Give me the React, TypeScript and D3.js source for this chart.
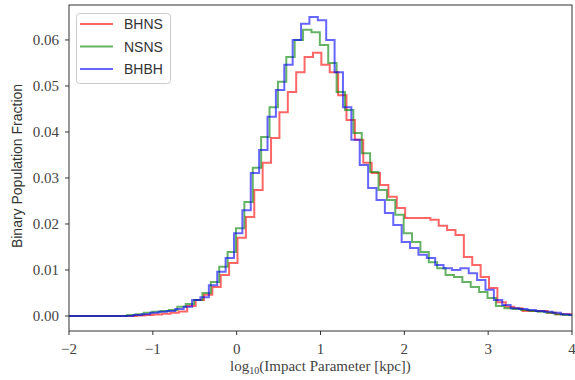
import React from 'react';
import * as d3 from 'd3';

// ---- data ----
const binWidth = 0.1;
const bhnsStart = -1.99;
const nsnsStart = -2.008;
const bhbhStart = -2.032;

const bhns = [
  0, 0, 0, 0, 0, 0, 0, 0,
  0.0001, 0.0002, 0.0003, 0.0005, 0.0007, 0.0010, 0.0022, 0.0035, 0.0046, 0.0063, 0.0089, 0.0115,
  0.0170, 0.0215, 0.0274, 0.0333, 0.0387, 0.0443, 0.0487, 0.0530, 0.0563, 0.0572,
  0.0546, 0.0530, 0.0480, 0.0426, 0.0383, 0.0333, 0.0311, 0.0285, 0.0259, 0.0235,
  0.0213, 0.0213, 0.0213, 0.0209, 0.0196, 0.0187, 0.0176, 0.0128, 0.0111, 0.0085,
  0.0061, 0.0030, 0.0020, 0.0017, 0.0011, 0.0011, 0.0011, 0.0007, 0.0004, 0.0004, 0.0003,
];
const nsns = [
  0, 0, 0, 0, 0, 0, 0,
  0.0002, 0.0004, 0.0007, 0.0009, 0.0011, 0.0013, 0.0020, 0.0026, 0.0035, 0.0050, 0.0074, 0.0107, 0.0139,
  0.0191, 0.0248, 0.0322, 0.0389, 0.0454, 0.0509, 0.0563, 0.0600, 0.0622, 0.0617,
  0.0589, 0.0550, 0.0487, 0.0448, 0.0398, 0.0354, 0.0313, 0.0274, 0.0252, 0.0220,
  0.0180, 0.0161, 0.0139, 0.0117, 0.0104, 0.0089, 0.0085, 0.0074, 0.0063, 0.0052,
  0.0039, 0.0022, 0.0017, 0.0015, 0.0013, 0.0011, 0.0009, 0.0007, 0.0004, 0.0002, 0.0002,
];
const bhbh = [
  0, 0, 0, 0, 0, 0, 0, 0,
  0.0002, 0.0004, 0.0007, 0.0009, 0.0011, 0.0015, 0.0020, 0.0035, 0.0041, 0.0067, 0.0096, 0.0126,
  0.0180, 0.0230, 0.0311, 0.0361, 0.0433, 0.0491, 0.0546, 0.0600, 0.0635, 0.0650,
  0.0643, 0.0600, 0.0530, 0.0454, 0.0383, 0.0328, 0.0278, 0.0252, 0.0224, 0.0198,
  0.0161, 0.0148, 0.0133, 0.0126, 0.0111, 0.0104, 0.0100, 0.0104, 0.0093, 0.0078,
  0.0057, 0.0035, 0.0024, 0.0017, 0.0015, 0.0013, 0.0011, 0.0009, 0.0007, 0.0004, 0.0002,
];

const seriesNames = ['BHNS', 'NSNS', 'BHBH'];
const seriesColors = ['#ff0000', '#008000', '#0000ff'];
const xTicks = [-2, -1, 0, 1, 2, 3, 4];
const yTicks = [0, 0.01, 0.02, 0.03, 0.04, 0.05, 0.06];

const W = 575, H = 380;
const L = 69, R = 572, T = 5, B = 331;

export default function App() {
  const x = d3.scaleLinear().domain([-2, 4]).range([L, R]);
  const y = d3.scaleLinear().domain([-0.00326, 0.0676]).range([B, T]);

  const series = [
    { name: seriesNames[0], color: seriesColors[0], start: bhnsStart, vals: bhns },
    { name: seriesNames[1], color: seriesColors[1], start: nsnsStart, vals: nsns },
    { name: seriesNames[2], color: seriesColors[2], start: bhbhStart, vals: bhbh },
  ];

  const stepPath = (start: number, vals: number[]) => {
    const pts: [number, number][] = [];
    pts.push([start, 0]);
    vals.forEach((v, i) => {
      const e0 = start + i * binWidth;
      pts.push([e0, v]);
      pts.push([e0 + binWidth, v]);
    });
    pts.push([start + vals.length * binWidth, 0]);
    return d3.line<[number, number]>().x((d) => x(d[0])).y((d) => y(d[1]))(pts) || '';
  };

  const fmtY = d3.format('.2f');
  const fmtX = (v: number) => (v < 0 ? '\u2212' + Math.abs(v) : String(v));

  return (
    <svg width={W} height={H} style={{ position: 'absolute', left: 0, top: 0, background: '#fff' }}>
      <defs>
        <clipPath id="plotclip">
          <rect x={L} y={T} width={R - L} height={B - T} />
        </clipPath>
      </defs>
      <rect x={0} y={0} width={W} height={H} fill="#fff" />
      <g clipPath="url(#plotclip)">
        {series.map((s) => (
          <path key={s.name} d={stepPath(s.start, s.vals)} fill="none" stroke={s.color}
            strokeOpacity={0.6} strokeWidth={2} strokeLinejoin="miter" />
        ))}
      </g>
      {/* spines */}
      <rect x={L} y={T} width={R - L} height={B - T} fill="none" stroke="#333" strokeWidth={1} />
      {/* y ticks */}
      {yTicks.map((t) => (
        <g key={'y' + t}>
          <line x1={L - 4} x2={L} y1={y(t)} y2={y(t)} stroke="#333" strokeWidth={1} />
          <text x={L - 10} y={y(t)} dy="0.35em" textAnchor="end"
            fontFamily="Liberation Serif" fontSize={15} fill="#444">{fmtY(t)}</text>
        </g>
      ))}
      {/* x ticks */}
      {xTicks.map((t) => (
        <g key={'x' + t}>
          <line x1={x(t)} x2={x(t)} y1={B} y2={B + 4} stroke="#333" strokeWidth={1} />
          <text x={x(t)} y={B + 23} textAnchor="middle"
            fontFamily="Liberation Serif" fontSize={15} fill="#444">{fmtX(t)}</text>
        </g>
      ))}
      {/* axis labels */}
      <text x={(L + R) / 2} y={371} textAnchor="middle" fontFamily="Liberation Serif" fontSize={15} fill="#444">
        log<tspan fontSize={10} dy={3}>10</tspan><tspan dy={-3}>(Impact Parameter [kpc])</tspan>
      </text>
      <text transform={`translate(22,${(T + B) / 2 - 2}) rotate(-90)`} textAnchor="middle"
        fontFamily="Liberation Sans" fontSize={14} fill="#333">Binary Population Fraction</text>
      {/* legend */}
      <rect x={76.5} y={13.5} width={94} height={70} rx={3} fill="#fff" fillOpacity={0.8} stroke="#ccc" strokeWidth={1} />
      {series.map((s, i) => (
        <g key={'lg' + s.name}>
          <line x1={80} x2={113} y1={24 + i * 22.5} y2={24 + i * 22.5} stroke={s.color} strokeOpacity={0.6} strokeWidth={2} />
          <text x={124} y={24 + i * 22.5} dy="0.36em" fontFamily="Liberation Sans" fontSize={14} fill="#333">{s.name}</text>
        </g>
      ))}
    </svg>
  );
}
